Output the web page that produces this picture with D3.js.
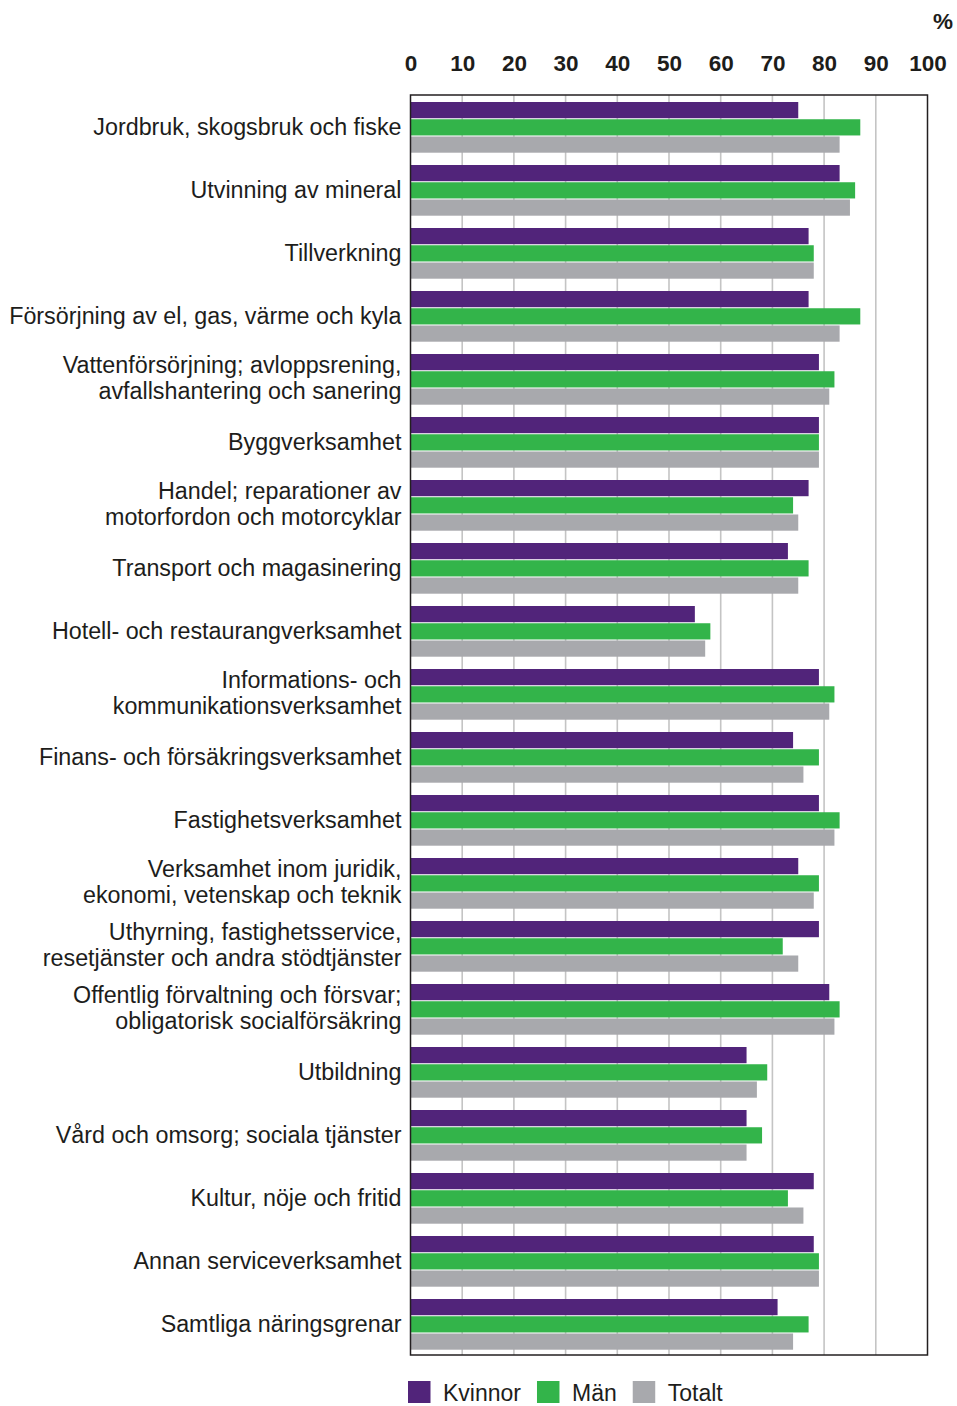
<!DOCTYPE html>
<html>
<head>
<meta charset="utf-8">
<script src="https://cdn.jsdelivr.net/npm/d3@7"></script>
<style>
  html, body { margin: 0; padding: 0; background: #fff; }
  svg { display: block; }
  text { font-family: "Liberation Sans", Arial, sans-serif; fill: #1d1d1b; }
</style>
</head>
<body>
<svg id="chart" width="957" height="1406"></svg>
<script>
const categories = [
  "Jordbruk, skogsbruk och fiske",
  "Utvinning av mineral",
  "Tillverkning",
  "Försörjning av el, gas, värme och kyla",
  "Vattenförsörjning; avloppsrening,\navfallshantering och sanering",
  "Byggverksamhet",
  "Handel; reparationer av\nmotorfordon och motorcyklar",
  "Transport och magasinering",
  "Hotell- och restaurangverksamhet",
  "Informations- och\nkommunikationsverksamhet",
  "Finans- och försäkringsverksamhet",
  "Fastighetsverksamhet",
  "Verksamhet inom juridik,\nekonomi, vetenskap och teknik",
  "Uthyrning, fastighetsservice,\nresetjänster och andra stödtjänster",
  "Offentlig förvaltning och försvar;\nobligatorisk socialförsäkring",
  "Utbildning",
  "Vård och omsorg; sociala tjänster",
  "Kultur, nöje och fritid",
  "Annan serviceverksamhet",
  "Samtliga näringsgrenar"
];
const kvinnor = [75, 83, 77, 77, 79, 79, 77, 73, 55, 79, 74, 79, 75, 79, 81, 65, 65, 78, 78, 71];
const man     = [87, 86, 78, 87, 82, 79, 74, 77, 58, 82, 79, 83, 79, 72, 83, 69, 68, 73, 79, 77];
const totalt  = [83, 85, 78, 83, 81, 79, 75, 75, 57, 81, 76, 82, 78, 75, 82, 67, 65, 76, 79, 74];
const seriesNames = ["Kvinnor", "Män", "Totalt"];
const seriesColors = ["#51247a", "#33b44a", "#a8a9ad"];
const tickValues = [0, 10, 20, 30, 40, 50, 60, 70, 80, 90, 100];
const unitLabel = "%";

const seriesData = [kvinnor, man, totalt];

const svg = d3.select("#chart");
const pLeft = 410.5, pRight = 927.5, pTop = 95, pBottom = 1355;

const x = d3.scaleLinear().domain([0, 100]).range([pLeft, pRight]);
const y0 = d3.scaleBand().domain(categories).range([pTop, pBottom]).padding(0);
const y1 = d3.scaleBand().domain(seriesNames).range([7, 57.7]).paddingInner(0.06);
const color = d3.scaleOrdinal().domain(seriesNames).range(seriesColors);

// gridlines
svg.append("g")
  .selectAll("line")
  .data(tickValues.filter(d => d > 0 && d < 100))
  .join("line")
  .attr("x1", d => x(d)).attr("x2", d => x(d))
  .attr("y1", pTop).attr("y2", pBottom)
  .attr("stroke", "#c4c4c4").attr("stroke-width", 1.6);

// bars
const groups = svg.append("g")
  .selectAll("g")
  .data(categories)
  .join("g")
  .attr("transform", d => `translate(0,${y0(d)})`);

groups.selectAll("rect")
  .data((d, i) => seriesNames.map((s, j) => ({ s, v: seriesData[j][i] })))
  .join("rect")
  .attr("x", x(0))
  .attr("y", d => y1(d.s))
  .attr("width", d => x(d.v) - x(0))
  .attr("height", y1.bandwidth())
  .attr("fill", d => color(d.s));

// frame
svg.append("rect")
  .attr("x", pLeft).attr("y", pTop)
  .attr("width", pRight - pLeft).attr("height", pBottom - pTop)
  .attr("fill", "none").attr("stroke", "#231f20").attr("stroke-width", 1.5);

// top axis
const axisTop = d3.axisTop(x).tickValues(tickValues).tickSize(0).tickPadding(24).tickFormat(d3.format("d"));
const ax = svg.append("g").attr("transform", `translate(0,${pTop})`).call(axisTop);
ax.select(".domain").remove();
ax.selectAll("text")
  .attr("font-family", "'Liberation Sans', Arial, sans-serif")
  .attr("font-size", 22.5).attr("font-weight", "bold").attr("fill", "#1d1d1b");

svg.append("text")
  .attr("x", 943).attr("y", 29)
  .attr("text-anchor", "middle")
  .attr("font-size", 22.5).attr("font-weight", "bold")
  .text(unitLabel);

// category labels
svg.append("g")
  .selectAll("text")
  .data(categories)
  .join("text")
  .attr("text-anchor", "end")
  .attr("font-size", 23.3)
  .each(function(d) {
    const lines = d.split("\n");
    const c = y0(d) + y0.bandwidth() / 2;
    const base = lines.length === 1 ? c + 8.5 : c - 6;
    const t = d3.select(this);
    lines.forEach((ln, k) => {
      t.append("tspan").attr("x", 401.5).attr("y", base + k * 26.5).text(ln);
    });
  });

// legend
const legend = svg.append("g").attr("transform", "translate(408,1381)");
let lx = 0;
seriesNames.forEach((s) => {
  legend.append("rect").attr("x", lx).attr("y", 0).attr("width", 22.5).attr("height", 22)
    .attr("fill", color(s));
  const t = legend.append("text").attr("x", lx + 35).attr("y", 19.5)
    .attr("font-size", 23).text(s);
  const w = t.node().getComputedTextLength();
  lx = lx + 35 + w + 16;
});
</script>
</body>
</html>
